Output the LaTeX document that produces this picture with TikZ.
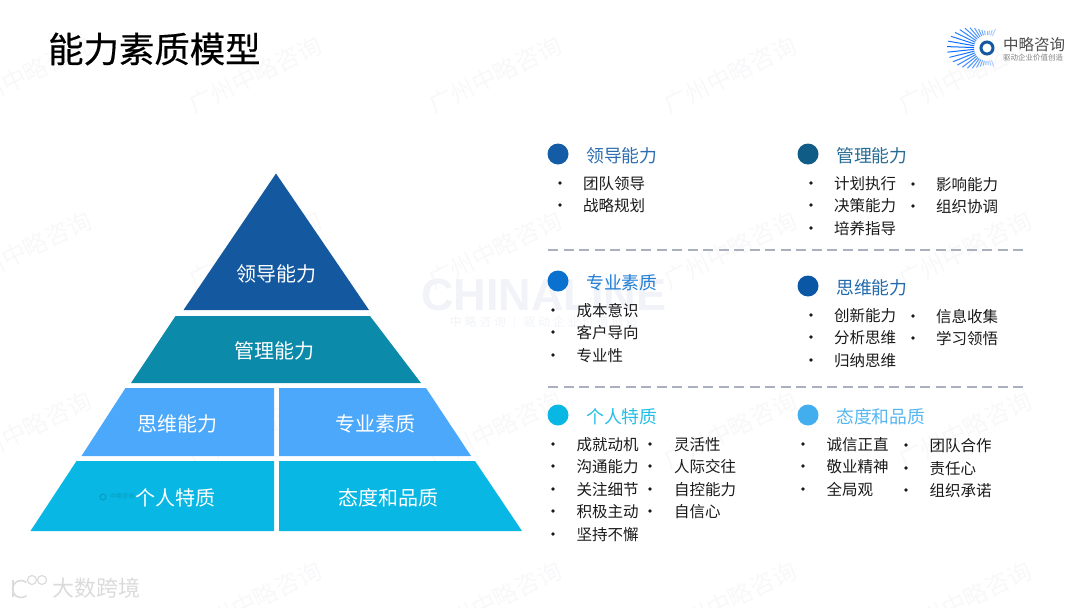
\documentclass[tikz,border=0pt]{standalone}
\usepackage{fontspec}
\usetikzlibrary{calc}
\setmainfont{Noto Sans CJK SC}
\newfontfamily\latinbold{Liberation Sans Bold}
\newfontfamily\titlefont[FakeBold=0.5]{Noto Sans CJK SC}
\definecolor{topblue}{HTML}{14599F}
\definecolor{tealband}{HTML}{0B8BA9}
\definecolor{midblue}{HTML}{4BA8FA}
\definecolor{skyband}{HTML}{08B7E3}
\definecolor{markfaint}{HTML}{F8F8FA}
\definecolor{linefaint}{HTML}{F1F3F8}
\definecolor{dashgrey}{HTML}{A9B0BE}
\tikzset{
  band/.style={fill=#1, draw=none},
  bandtext/.style={text=white, inner sep=0pt, font=\fontsize{20}{24}\selectfont},
  headdot/.style={circle, fill=#1, minimum size=21pt, inner sep=0pt},
  headtext/.style={text=#1, anchor=west, inner sep=0pt, font=\fontsize{17.8}{21}\selectfont},
  itemdot/.style={circle, fill=black!90, minimum size=3.8pt, inner sep=0pt},
  itemtext/.style={text=black!90, anchor=west, inner sep=0pt, font=\fontsize{15.5}{18}\selectfont},
  splitline/.style={draw=dashgrey, line width=1.5pt, dash pattern=on 10pt off 5.5pt},
  faintmark/.style={text=markfaint, rotate=26, inner sep=0pt, font=\fontsize{24}{28}\selectfont},
}
\begin{document}
\begin{tikzpicture}[x=1pt, y=-1pt]
  \useasboundingbox (0,0) rectangle (1080,608);

  % watermark
  \foreach \y in {75,250,430}
    \foreach \x in {25,255,495,730,965}
      \node[faintmark] (mark\x\y) at (\x,\y) {广州中略咨询};
  \foreach \x in {255,495,730,965}
    \node[faintmark] (mark\x) at (\x,600) {广州中略咨询};
  \node[text=linefaint, inner sep=0pt, font=\latinbold\fontsize{45}{48}\selectfont] (chinaline) at (544,295) {CHINALINE};
  \node[text=linefaint, inner sep=0pt, font=\fontsize{12}{14}\selectfont] (chinasub) at (544,322) {中\ 略\ 咨\ 询\ ｜\ 驱\ 动\ 企\ 业\ 价\ 值\ 创\ 造};

  % title
  \node[anchor=west, inner sep=0pt, font=\titlefont\fontsize{35.4}{40}\selectfont] (title) at (48,49) {能力素质模型};

  % logo
  \foreach \a in {70,78,...,294} {
    \pgfmathsetmacro{\rayend}{17+23*abs(cos(\a))^2}
    \pgfmathsetmacro{\raymix}{int(100-abs(\a-182)*0.62)}
    \draw[color=blue!60!cyan!\raymix!white, line width=1pt] ($(987,48)+(\a:13)$) -- ($(987,48)+(\a:\rayend)$);
  }
  \node[circle, draw=topblue, line width=3pt, minimum size=12pt, inner sep=0pt] (logoring) at (987,48) {};
  \node[anchor=west, inner sep=0pt, text=black!70, font=\fontsize{15.5}{18}\selectfont] (logoname) at (1003,45) {中略咨询};
  \node[anchor=west, inner sep=0pt, text=black!50, font=\fontsize{7.5}{9}\selectfont] (logosub) at (1003,58) {驱动企业价值创造};

  % pyramid
  \path[band=topblue] (276,173.5) -- (369,310) -- (183.5,310) -- cycle;
  \path[band=tealband] (175.5,316) -- (370,316) -- (421,383) -- (131,383) -- cycle;
  \path[band=midblue] (125.5,388) -- (274,388) -- (274,456) -- (81.5,456) -- cycle;
  \path[band=midblue] (279,388) -- (426,388) -- (471,456) -- (279,456) -- cycle;
  \path[band=skyband] (76.5,461) -- (274,461) -- (274,531) -- (30.5,531) -- cycle;
  \path[band=skyband] (279,461) -- (475,461) -- (522,531) -- (279,531) -- cycle;
  \node[circle, draw=skyband!85!black, line width=1pt, minimum size=6pt, inner sep=0pt] (bandring) at (103,497) {};
  \node[anchor=west, inner sep=0pt, text=skyband!85!black, font=\fontsize{6}{7}\selectfont] (bandmark) at (110,496) {中略咨询};
  \node[bandtext] (lead) at (276,274) {领导能力};
  \node[bandtext] (manage) at (274,351) {管理能力};
  \node[bandtext] (think) at (177,424) {思维能力};
  \node[bandtext] (major) at (375,424) {专业素质};
  \node[bandtext] (person) at (175,498) {个人特质};
  \node[bandtext] (attitude) at (388,498) {态度和品质};

  % headings
  \foreach \n/\x/\y/\c/\t in {
    a/558/154/155CA6/领导能力, b/808/154/0F5C86/管理能力,
    c/558/281/0B71CF/专业素质, d/808/286/0A58A5/思维能力,
    e/558/415/08B7E3/个人特质, f/808/415/42AEEE/态度和品质} {
    \definecolor{headcol}{HTML}{\c}
    \node[headdot=headcol] (dot\n) at (\x,\y) {};
    \node[headtext=headcol!90!white] (head\n) at (\x+28,\y+2) {\t};
  }

  % lists
  \foreach \n/\x/\y/\t in {
    a1/560/183/团队领导, a2/560/205/战略规划,
    b1/811/183/计划执行, b2/811/205/决策能力, b3/811/228/培养指导,
    b4/913/184/影响能力, b5/913/206/组织协调,
    d1/811/315/创新能力, d2/811/337/分析思维, d3/811/360/归纳思维,
    d4/913/316/信息收集, d5/913/338/学习领悟} {
    \node[itemdot] (item\n) at (\x,\y) {};
    \node[itemtext] (text\n) at (\x+23,\y+1) {\t};
  }
  \foreach \n/\x/\y/\t in {
    c1/553/310/成本意识, c2/553/332/客户导向, c3/553/355/专业性,
    e1/553/444/成就动机, e2/553/466/沟通能力, e3/553/489/关注细节,
    e4/553/511/积极主动, e5/553/534/坚持不懈,
    f1/803/444/诚信正直, f2/803/466/敬业精神, f3/803/489/全局观,
    f4/906/445/团队合作, f5/906/468/责任心, f6/906/490/组织承诺} {
    \node[itemdot] (item\n) at (\x,\y) {};
    \node[itemtext] (text\n) at (\x+23.5,\y+1) {\t};
  }
  \foreach \n/\y/\t in {6/444/灵活性, 7/466/人际交往, 8/489/自控能力, 9/511/自信心} {
    \node[itemdot] (iteme\n) at (650,\y) {};
    \node[itemtext] (texte\n) at (674,\y+1) {\t};
  }

  % separators
  \coordinate (sepa) at (548,250);
  \coordinate (sepb) at (1024,250);
  \coordinate (sepc) at (548,387);
  \coordinate (sepd) at (1024,387);
  \draw[splitline] (sepa) -- (sepb);
  \draw[splitline] (sepc) -- (sepd);

  % corner stamp
  \node[anchor=west, inner sep=0pt, text=black!14, font=\fontsize{22}{24}\selectfont] (stamp) at (52,588) {大数跨境};
  \draw[black!14, line width=1.6pt] (13,580) -- (13,597);
  \draw[black!14, line width=1.6pt] (26.5,582.5) arc (-50:-310:8.5);
  \draw[black!14, line width=1.2pt] (32,580) circle (4.5);
  \draw[black!14, line width=1.2pt] (42,580) circle (4.5);
\end{tikzpicture}
\end{document}
